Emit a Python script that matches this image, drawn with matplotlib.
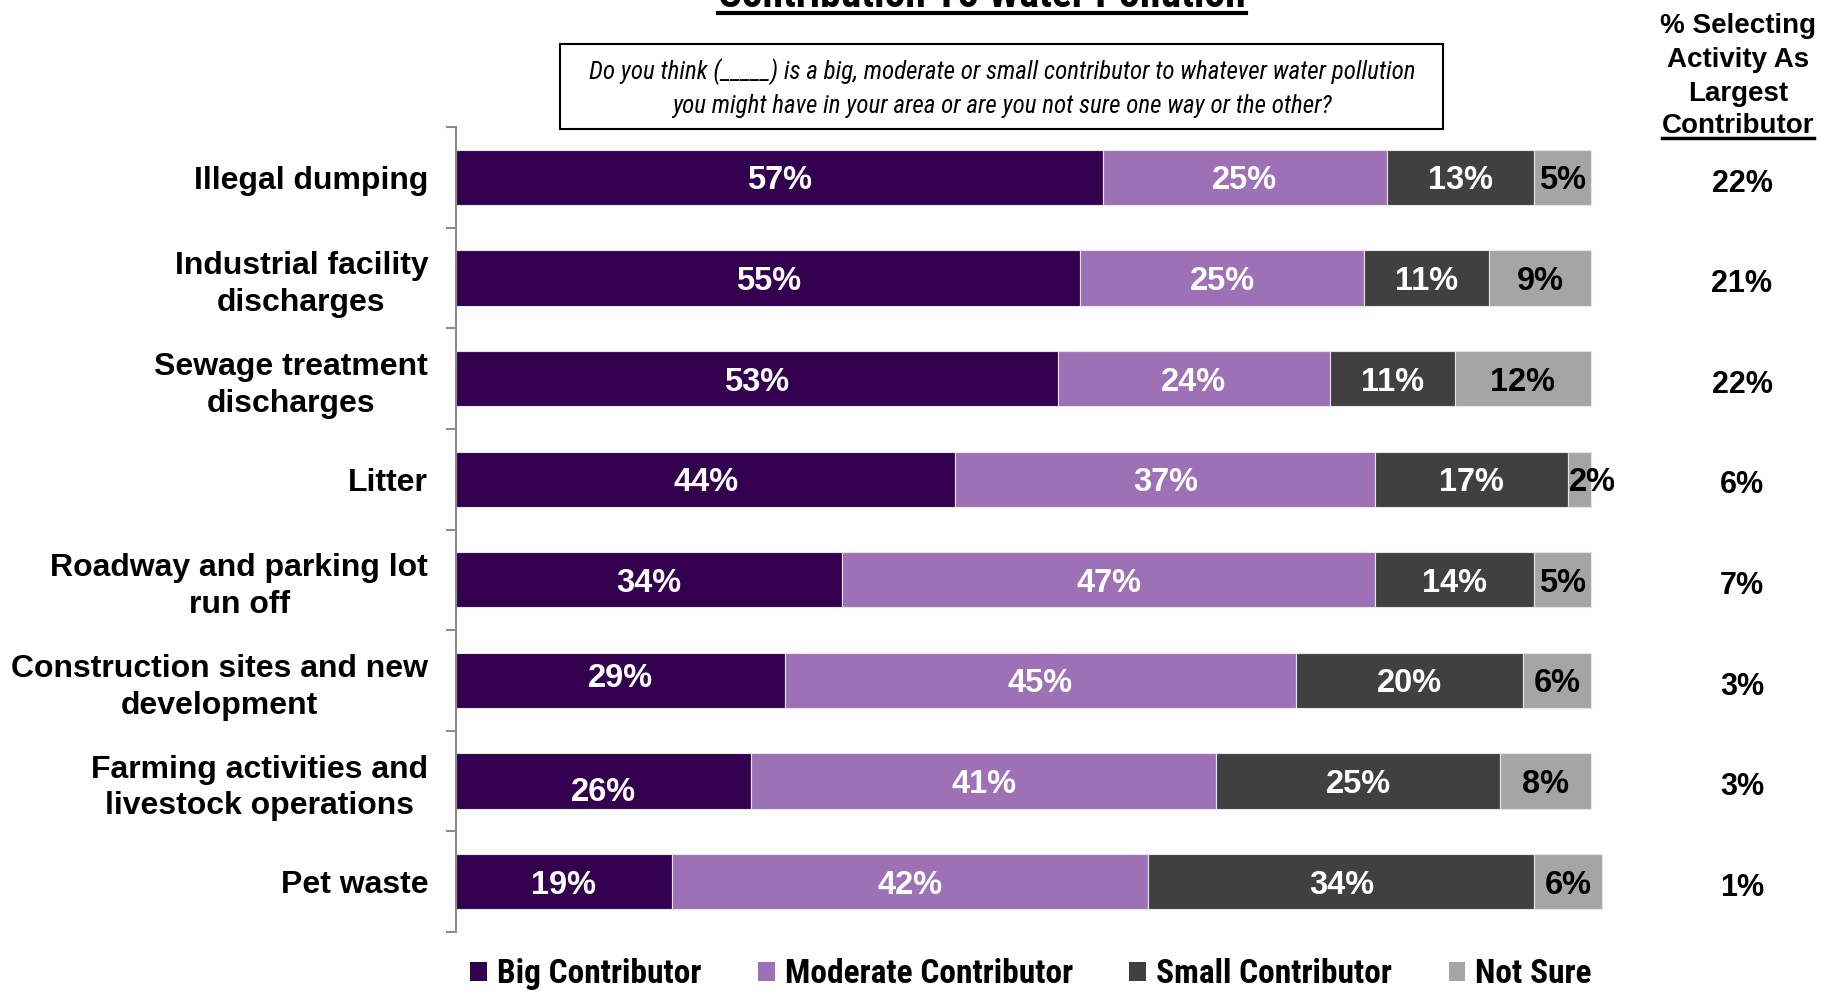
import numpy as np
import matplotlib
matplotlib.use("Agg")
import matplotlib.pyplot as plt
from matplotlib.patches import Patch, Rectangle
from matplotlib.lines import Line2D
import matplotlib.transforms as mtransforms

plt.rcParams['font.family'] = ['Liberation Sans', 'DejaVu Sans']

# --- survey data -------------------------------------------------------
activities = [
    "Illegal dumping",
    "Industrial facility\ndischarges",
    "Sewage treatment\ndischarges",
    "Litter",
    "Roadway and parking lot\nrun off",
    "Construction sites and new\ndevelopment",
    "Farming activities and\nlivestock operations",
    "Pet waste",
]
big = [57, 55, 53, 44, 34, 29, 26, 19]
moderate = [25, 25, 24, 37, 47, 45, 41, 42]
small = [13, 11, 11, 17, 14, 20, 25, 34]
not_sure = [5, 9, 12, 2, 5, 6, 8, 6]
largest = [22, 21, 22, 6, 7, 3, 3, 1]

series_names = ["Big Contributor", "Moderate Contributor", "Small Contributor", "Not Sure"]
series_colors = ["#330050", "#9e71b6", "#404040", "#a5a5a5"]
label_colors = ["white", "white", "white", "black"]

# a few in-bar labels sit a little off-centre: (row, series) -> (dx, dy) points
label_nudge = {(5, 0): (0, 4), (6, 0): (0, -5.5), (3, 3): (9, 0)}

NARROW = ['Roboto Condensed', 'Liberation Sans', 'DejaVu Sans']

W, H = 1837, 991
fig = plt.figure(figsize=(W / 100, H / 100), dpi=100)


def fx(px):
    return px / W


def fy(py):
    return 1 - py / H


# axes box: left spine at x=456px, rows span y=127..932px
x_max = 102
ax = fig.add_axes([fx(456), fy(932), fx(1135 * x_max / 100), fy(127) - fy(932)])

y = np.arange(len(activities))
values = [big, moderate, small, not_sure]
left = np.zeros(len(activities))
for k, vals in enumerate(values):
    vals = np.array(vals, dtype=float)
    ax.barh(y, vals, left=left, height=0.55, color=series_colors[k],
            edgecolor='#e6e6e6', linewidth=0.8)
    for i, v in enumerate(vals):
        dx, dy = label_nudge.get((i, k), (0, 0))
        ax.annotate(f"{int(v)}%", (left[i] + v / 2, y[i]), xytext=(dx, dy),
                    textcoords='offset points', ha='center', va='center_baseline',
                    fontsize=23.5, fontweight='bold', color=label_colors[k],
                    annotation_clip=False)
    left += vals

ax.set_xlim(0, x_max)
ax.set_ylim(len(activities) - 0.5, -0.5)
ax.set_xticks([])
ax.set_yticks(y)
ax.set_yticklabels(activities, fontsize=23, fontweight='bold')
for t in ax.get_yticklabels():
    t.set_multialignment('center')
    t.set_linespacing(1.3)
ax.set_yticks(np.arange(-0.5, len(activities)), minor=True)
ax.tick_params(axis='y', which='major', length=0, pad=20)
ax.tick_params(axis='y', which='minor', length=7, width=1.5, color='#8c8c8c',
               direction='out')
for side in ['top', 'right', 'bottom']:
    ax.spines[side].set_visible(False)
ax.spines['left'].set_color('#8c8c8c')
ax.spines['left'].set_linewidth(1.5)

# right-hand column: share picking each activity as largest contributor
trans = mtransforms.blended_transform_factory(fig.transFigure, ax.transData)
for i, v in enumerate(largest):
    ax.annotate(f"{v}%", (fx(1742), y[i]), xycoords=trans, xytext=(0, -2),
                textcoords='offset points', ha='center', va='center_baseline',
                fontsize=22, fontweight='bold', annotation_clip=False)

header = ["% Selecting", "Activity As", "Largest", "Contributor"]
header_y = [26, 60, 94, 126]
for line, py in zip(header, header_y):
    hdr = fig.text(fx(1738), fy(py), line, ha='center', va='center',
                   fontsize=20, fontweight='bold')

# chart title, mostly running off the top edge
title = fig.text(fx(982), fy(7), "Contribution To Water Pollution", ha='center',
                 va='baseline', fontsize=30, fontweight='bold', family=NARROW)

# question wording in a box
fig.patches.append(Rectangle((fx(560), fy(129)), fx(1443 - 560), fy(44) - fy(129),
                             transform=fig.transFigure, fill=False,
                             edgecolor='black', linewidth=1.5))
fig.text(fx(1002), fy(88),
         "Do you think (_____) is a big, moderate or small contributor to whatever water pollution\n"
         "you might have in your area or are you not sure one way or the other?",
         ha='center', va='center', fontsize=18, style='italic', family=NARROW,
         linespacing=1.45)

# underline the title and the last header line
fig.canvas.draw()
renderer = fig.canvas.get_renderer()
bb = hdr.get_window_extent(renderer)
fig.lines.append(Line2D([bb.x0 / W, bb.x1 / W], [fy(138), fy(138)],
                        transform=fig.transFigure, color='black', linewidth=2.5))
bb = title.get_window_extent(renderer)
fig.lines.append(Line2D([bb.x0 / W, bb.x1 / W], [fy(13), fy(13)],
                        transform=fig.transFigure, color='black', linewidth=3))

handles = [Patch(facecolor=c, edgecolor='none') for c in series_colors]
fig.legend(handles, series_names, loc='center', bbox_to_anchor=(fx(1031), fy(974)),
           ncol=4, frameon=False, handlelength=0.5, handleheight=0.5,
           handletextpad=0.3, columnspacing=1.7,
           prop={'family': NARROW, 'weight': 'bold', 'size': 24})

fig.savefig("out.png", dpi=100)
